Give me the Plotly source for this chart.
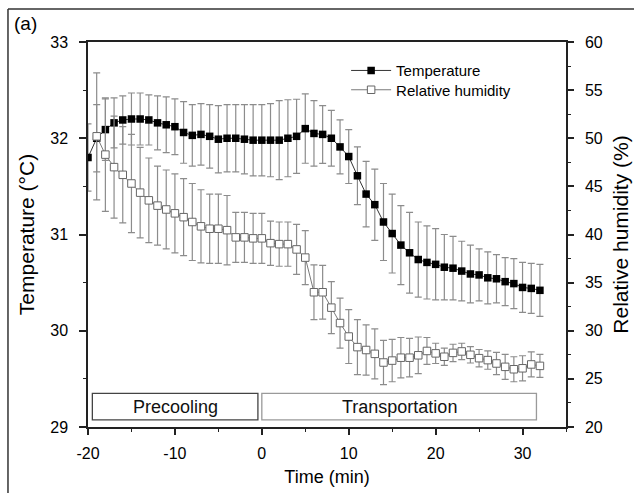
import plotly.graph_objects as go

# Time axis (min) relative to the start of transportation
time = list(range(-20, 33))

# Mean temperature (°C) and standard deviation
temperature = [31.80, 32.00, 32.09, 32.16, 32.19, 32.20, 32.20, 32.19, 32.16, 32.14,
               32.12, 32.06, 32.03, 32.04, 32.02, 31.99, 32.00, 32.00, 31.99, 31.98,
               31.98, 31.98, 31.98, 32.00, 32.02, 32.10, 32.05, 32.04, 32.00, 31.91,
               31.81, 31.61, 31.42, 31.31, 31.13, 31.01, 30.89, 30.81, 30.74, 30.71,
               30.69, 30.66, 30.65, 30.62, 30.59, 30.58, 30.55, 30.54, 30.51, 30.49,
               30.45, 30.44, 30.42]
temperature_sd = [0.35, 0.35, 0.32, 0.26, 0.25, 0.27, 0.27, 0.26, 0.28, 0.29,
                  0.29, 0.32, 0.32, 0.32, 0.33, 0.35, 0.35, 0.35, 0.36, 0.37,
                  0.37, 0.38, 0.41, 0.40, 0.385, 0.36, 0.34, 0.30, 0.29, 0.28,
                  0.28, 0.30, 0.34, 0.37, 0.40, 0.41, 0.41, 0.42, 0.39, 0.38,
                  0.37, 0.34, 0.33, 0.31, 0.30, 0.27, 0.27, 0.25, 0.25, 0.26,
                  0.26, 0.26, 0.27]

# Mean relative humidity (%) and standard deviation (no reading at -20 min)
humidity = [None, 50.2, 48.3, 47.0, 46.2, 45.3, 44.35, 43.55, 43.0, 42.6,
            42.2, 41.8, 41.3, 40.85, 40.6, 40.6, 40.45, 39.7, 39.7, 39.6,
            39.6, 39.1, 39.0, 39.0, 38.45, 37.6, 34.0, 34.0, 32.4, 30.8,
            29.4, 28.3, 28.0, 27.6, 26.7, 26.9, 27.2, 27.2, 27.45, 27.9,
            27.65, 27.3, 27.7, 27.85, 27.5, 27.15, 26.95, 26.6, 26.25, 26.0,
            26.1, 26.5, 26.35]
humidity_sd = [None, 6.6, 5.9, 5.3, 5.0, 5.1, 4.7, 4.4, 4.1, 4.1,
               4.1, 4.0, 4.0, 3.8, 3.6, 3.6, 3.6, 2.6, 2.6, 2.6,
               2.6, 2.3, 2.3, 2.3, 2.6, 2.8, 2.85, 2.8, 2.7, 2.6,
               2.8, 2.85, 2.6, 2.6, 2.3, 2.2, 2.1, 2.0, 1.9, 1.4,
               1.05, 0.9, 0.9, 0.85, 0.85, 0.9, 0.95, 1.15, 1.3, 1.3,
               1.3, 1.3, 1.2]

# Time tick positions and their labels (plain hyphen for negatives)
time_ticks = [-20, -10, 0, 10, 20, 30]
time_tick_text = ["-20", "-10", "0", "10", "20", "30"]

# Phase bands drawn along the bottom of the plot
phase_labels = ["Precooling", "Transportation"]
phase_start = [-19.5, 0.0]
phase_end = [-0.45, 31.6]
phase_edge = ["#444444", "#9a9a9a"]

FONT = "Arial, Liberation Sans, sans-serif"
AXIS = "#222222"
BAR = "#8c8c8c"

fig = go.Figure()

fig.add_trace(go.Scatter(
    x=time, y=temperature, name="Temperature", mode="lines+markers",
    legend="legend",
    line=dict(color="#333333", width=1),
    marker=dict(symbol="square", size=7.5, color="black", line=dict(width=0)),
    error_y=dict(type="data", array=temperature_sd, visible=True,
                 color=BAR, thickness=1.2, width=3.5),
))

fig.add_trace(go.Scatter(
    x=time, y=humidity, name="Relative humidity", mode="lines+markers",
    yaxis="y2", legend="legend2",
    line=dict(color="#7a7a7a", width=1),
    marker=dict(symbol="square", size=7.5, color="white",
                line=dict(width=1, color="#666666")),
    error_y=dict(type="data", array=humidity_sd, visible=True,
                 color=BAR, thickness=1.2, width=3.5),
))

shapes = []
annotations = []
for label, x0, x1, edge in zip(phase_labels, phase_start, phase_end, phase_edge):
    shapes.append(dict(type="rect", xref="x", yref="y", x0=x0, x1=x1,
                       y0=29.075, y1=29.35, line=dict(color=edge, width=1.3),
                       fillcolor="white", layer="above"))
    annotations.append(dict(x=(x0 + x1) / 2, y=29.2125, xref="x", yref="y",
                            text=label, showarrow=False,
                            font=dict(family=FONT, size=18, color="#111111")))

# Panel frame (top and left edges) and panel tag
shapes.append(dict(type="line", xref="paper", yref="paper",
                   x0=-0.1674, x1=1.3, y0=1.0857, y1=1.0857,
                   line=dict(color="#333333", width=1.5)))
shapes.append(dict(type="line", xref="paper", yref="paper",
                   x0=-0.1674, x1=-0.1674, y0=-0.3, y1=1.0857,
                   line=dict(color="#333333", width=1.5)))
annotations.append(dict(x=-0.158, y=1.047, xref="paper", yref="paper",
                        xanchor="left", yanchor="middle", text="(a)",
                        showarrow=False,
                        font=dict(family=FONT, size=19, color="black")))

tickfont = dict(family=FONT, size=16, color="black")
legend_common = dict(xanchor="left", yanchor="middle",
                     bgcolor="rgba(0,0,0,0)", itemwidth=40,
                     font=dict(family=FONT, size=15, color="black"))

fig.update_layout(
    width=634, height=493,
    margin=dict(l=88, r=68, t=42, b=66, autoexpand=False),
    paper_bgcolor="white", plot_bgcolor="white",
    font=dict(family=FONT, color="black"),
    showlegend=True,
    legend=dict(x=0.54, y=1 - (70.7 - 42) / 385, **legend_common),
    legend2=dict(x=0.54, y=1 - (90.0 - 42) / 385, **legend_common),
    xaxis=dict(range=[-20, 35], tickmode="array", tickvals=time_ticks,
               ticktext=time_tick_text, automargin=False,
               showgrid=False, zeroline=False,
               showline=True, linecolor=AXIS, linewidth=1.5, mirror=True,
               ticks="outside", ticklen=6, tickwidth=1.5, tickcolor=AXIS,
               ticklabelstandoff=5,
               minor=dict(dtick=5, tick0=0, ticks="outside", ticklen=3,
                          tickwidth=1.2, tickcolor=AXIS, showgrid=False),
               tickfont=tickfont,
               title=dict(text="Time (min)", standoff=9,
                          font=dict(family=FONT, size=18))),
    yaxis=dict(range=[29, 33], dtick=1, showgrid=False, zeroline=False,
               automargin=False,
               showline=True, linecolor=AXIS, linewidth=1.5,
               ticks="outside", ticklen=7, tickwidth=1.5, tickcolor=AXIS,
               ticklabelstandoff=8,
               minor=dict(dtick=0.5, ticks="outside", ticklen=3,
                          tickwidth=1.2, tickcolor=AXIS, showgrid=False),
               tickfont=tickfont,
               title=dict(text="Temperature (°C)", standoff=10,
                          font=dict(family=FONT, size=21))),
    yaxis2=dict(range=[20, 60], dtick=5, overlaying="y", side="right",
                automargin=False,
                showgrid=False, zeroline=False,
                showline=True, linecolor=AXIS, linewidth=1.5,
                ticks="outside", ticklen=6, tickwidth=1.5, tickcolor=AXIS,
                ticklabelstandoff=8,
                minor=dict(dtick=2.5, ticks="outside", ticklen=3,
                           tickwidth=1.2, tickcolor=AXIS, showgrid=False),
                tickfont=tickfont,
                title=dict(text="Relative humidity (%)", standoff=11,
                           font=dict(family=FONT, size=21))),
    shapes=shapes,
    annotations=annotations,
)

fig.write_html("out.html")
